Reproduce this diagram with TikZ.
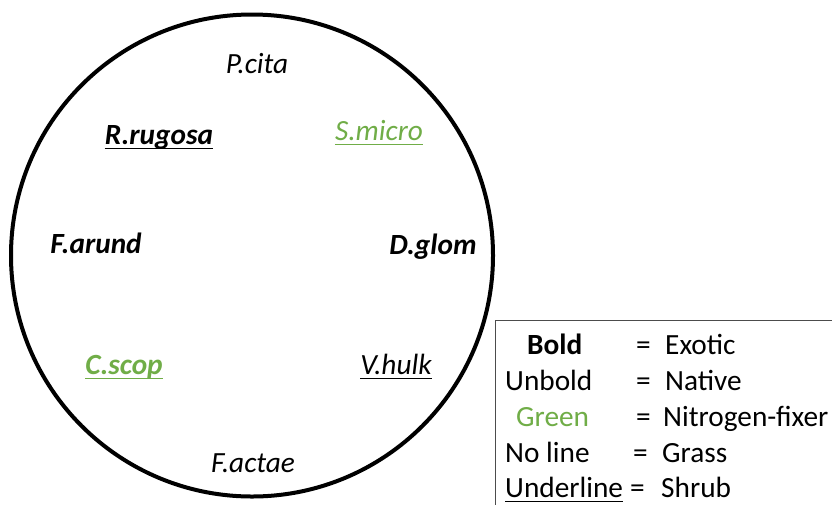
\documentclass[tikz,border=0pt]{standalone}
\usepackage{fontspec}
\setmainfont{Carlito}
\definecolor{fixgreen}{RGB}{112,173,71}
\newcommand{\fsz}{\fontsize{29.3}{35}\selectfont}
\begin{document}
\begin{tikzpicture}[x=1pt,y=-1pt,
  lab/.style={anchor=base,inner sep=0pt,font=\fsz\itshape},
  blab/.style={anchor=base,inner sep=0pt,font=\fsz\bfseries\itshape},
  leg/.style={anchor=base west,inner sep=0pt,font=\fsz},
  uline/.style={line width=1.5pt}]
\useasboundingbox (0,0) rectangle (832,504);
\clip (0,0) rectangle (832,504);
\fill[white] (0,0) rectangle (832,504);
% circle
\node[circle,draw,line width=4pt,minimum size=482pt,inner sep=0pt] (ring) at (252,255.5) {};
% species labels
\node[lab] (pcita) at (257,73) {P.cita};
\node[blab] (rrug) at (159,144) {R.rugosa};
\node[lab,text=fixgreen] (smicro) at (379,140) {S.micro};
\node[blab] (farund) at (96,253) {F.arund};
\node[blab] (dglom) at (433,254) {D.glom};
\node[blab,text=fixgreen] (cscop) at (124,374) {C.scop};
\node[lab] (vhulk) at (396,374) {V.hulk};
\node[lab] (factae) at (253,472) {F.actae};
% underlines
\draw[uline] ([yshift=-4.5pt]rrug.base west) -- ([yshift=-4.5pt]rrug.base east);
\draw[uline,fixgreen] ([yshift=-4.5pt]smicro.base west) -- ([yshift=-4.5pt]smicro.base east);
\draw[uline,fixgreen] ([yshift=-4.5pt]cscop.base west) -- ([yshift=-4.5pt]cscop.base east);
\draw[uline] ([yshift=-4.5pt]vhulk.base west) -- ([yshift=-4.5pt]vhulk.base east);
% legend box
\draw[line width=1pt,black!70] (495,320) rectangle (840,510);
\node[leg,font=\fsz\bfseries] (l1) at (527,354) {Bold};
\node[leg] (e1) at (636,354) {=};
\node[leg] (r1) at (665,354) {Exotic};
\node[leg] (l2) at (505,390) {Unbold};
\node[leg] (e2) at (636,390) {=};
\node[leg] (r2) at (665,390) {Native};
\node[leg,text=fixgreen] (l3) at (516,426) {Green};
\node[leg] (e3) at (636,426) {=};
\node[leg] (r3) at (663,426) {Nitrogen-fixer};
\node[leg] (l4) at (505,462) {No line};
\node[leg] (e4) at (633,462) {=};
\node[leg] (r4) at (662,462) {Grass};
\node[leg] (l5) at (505,497) {Underline};
\node[leg] (e5) at (630,497) {=};
\node[leg] (r5) at (661,497) {Shrub};
\draw[uline] ([yshift=-4.5pt]l5.base west) -- ([yshift=-4.5pt]l5.base east);
\end{tikzpicture}
\end{document}
